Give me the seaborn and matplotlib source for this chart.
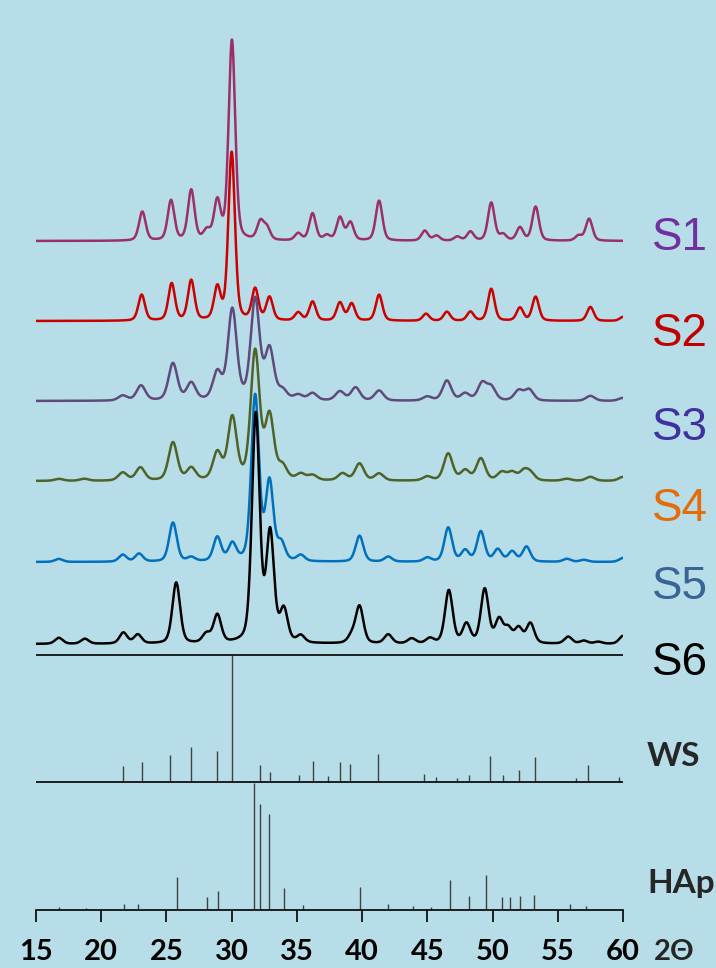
import numpy as np
import pandas as pd
import matplotlib
matplotlib.use("Agg")
import matplotlib.pyplot as plt
import seaborn as sns

# --- data ---------------------------------------------------------------
samples = ["S1", "S2", "S3", "S4", "S5", "S6"]
line_colors = ["#9b3068", "#cc0000", "#604a7b", "#4f6228", "#0070c0", "#000000"]
label_colors = ["#7030a0", "#c00000", "#3f31a0", "#e46c0a", "#3b6496", "#000000"]

# peak position (2theta) / peak height (a.u.) for each sample pattern
s1_pos = [23.15, 25.35, 26.9, 28.1, 28.9, 30.02, 32.2, 32.7, 35.1, 36.2, 37.3, 38.3, 39.1,
          41.3, 44.8, 45.7, 47.3, 48.3, 49.9, 50.8, 52.1, 53.3, 56.6, 57.4]
s1_int = [29, 40, 50, 9, 38, 200, 18, 12, 7, 27, 5, 23, 18,
          40, 10, 5, 4, 9, 38, 6, 13, 34, 5, 22]

s2_pos = [23.1, 25.4, 26.9, 28.9, 30.0, 31.8, 32.9, 35.1, 36.2, 38.3, 39.2, 41.3,
          44.9, 46.5, 48.3, 49.9, 52.1, 53.3, 57.5, 60.0]
s2_int = [26, 37, 40, 32, 168, 31, 23, 8, 19, 18, 17, 26,
          7, 9, 9, 32, 13, 24, 14, 4]

s3_pos = [21.65, 23.05, 25.5, 26.9, 28.9, 30.05, 31.8, 32.9, 33.9, 35.1, 36.2, 38.3,
          39.5, 41.3, 45.0, 46.5, 47.9, 49.2, 49.9, 52.0, 52.8, 57.5, 60.0]
s3_int = [5, 15, 37, 17, 27, 90, 100, 50, 9, 5, 7, 9,
          13, 10, 4, 20, 7, 17, 13, 10, 11, 5, 3]

s4_pos = [16.75, 18.7, 21.65, 23.0, 25.5, 26.9, 28.9, 30.05, 31.8, 32.9, 33.9, 35.3,
          36.2, 38.5, 39.8, 41.3, 45.0, 46.6, 47.9, 49.1, 50.7, 51.5, 52.4, 52.9,
          55.7, 57.5, 60.0]
s4_int = [2, 2, 8, 13, 38, 12, 27, 62, 128, 63, 13, 6,
          5, 7, 17, 7, 4, 27, 10, 22, 8, 8, 9, 7,
          2, 4, 4]

s5_pos = [16.75, 21.65, 22.9, 25.5, 26.9, 28.9, 30.05, 31.8, 32.9, 33.8, 35.3, 39.8,
          42.0, 45.0, 46.6, 47.9, 49.1, 50.4, 51.5, 52.6, 55.7, 57.0, 60.0]
s5_int = [3, 7, 8, 39, 4, 24, 17, 165, 78, 17, 6, 26,
          5, 4, 34, 11, 30, 12, 10, 15, 3, 2, 4]

s6_pos = [16.75, 18.75, 21.7, 22.8, 25.75, 28.06, 28.9, 31.85, 32.95, 34.0, 35.3, 39.2,
          39.8, 42.0, 43.8, 45.2, 46.65, 48.0, 49.4, 50.5, 51.2, 52.0, 52.9, 55.8,
          57.0, 58.1, 60.0]
s6_int = [6, 5, 11, 9, 61, 9, 28, 228, 108, 32, 7, 7,
          37, 9, 5, 5, 53, 19, 54, 23, 14, 15, 20, 7,
          3, 2, 8]

peak_pos = [s1_pos, s2_pos, s3_pos, s4_pos, s5_pos, s6_pos]
peak_int = [s1_int, s2_int, s3_int, s4_int, s5_int, s6_int]
peak_fwhm = [0.6, 0.6, 0.8, 0.8, 0.7, 0.7]

# reference stick patterns (relative intensity, %)
ws_pos = [21.65, 23.1, 25.3, 26.85, 28.85, 30.0, 32.15, 32.95, 35.15, 36.2, 37.35, 38.3,
          39.1, 41.2, 44.75, 45.65, 47.3, 48.2, 49.8, 50.8, 52.05, 53.25, 56.4, 57.35, 59.7]
ws_int = [12.3, 16, 21.2, 27.2, 24.3, 100, 13.6, 7.6, 5.5, 16.5, 5, 16,
          14.1, 22.3, 6.3, 3.9, 3.1, 5.8, 20.7, 5.8, 9.7, 19.6, 3.1, 13.1, 3.7]

hap_pos = [16.75, 18.8, 21.75, 22.85, 25.8, 28.1, 28.95, 31.75, 32.2, 32.9, 34.0, 35.5,
           39.8, 42.0, 43.9, 45.3, 46.7, 48.2, 49.5, 50.75, 51.3, 52.1, 53.2, 55.9, 57.15]
hap_int = [2.6, 1.8, 4.7, 4.7, 25.6, 10.5, 15.2, 100, 83.6, 75.2, 17.2, 3.7,
           18, 4.7, 3.4, 2.6, 23.8, 11, 27.2, 10.4, 9.9, 10.7, 11.7, 4.7, 3.1]

x_ticks = [15, 20, 25, 30, 35, 40, 45, 50, 55, 60]

# --- layout ---------------------------------------------------------------
offsets = [669, 589, 509, 429, 348, 266]   # baseline of each stacked pattern
ws_base, hap_base, stick_scale = 128, 0, 1.27
label_y = [238, 334, 428, 509, 587, 663]   # px from top
bg = "#b7dee8"
tick_len, tick_pad = 8.6, 12


def profile(x, pos, height, fwhm, eta=0.35):
    y = np.zeros_like(x)
    for p, h in zip(pos, height):
        d = (x - p) / fwhm
        y += h * (eta / (1 + 4 * d ** 2) + (1 - eta) * np.exp(-4 * np.log(2) * d ** 2))
    return y


two_theta = np.linspace(15, 60, 2251)
frames = []
for name, pos, inten, w, off in zip(samples, peak_pos, peak_int, peak_fwhm, offsets):
    frames.append(pd.DataFrame({"two_theta": two_theta,
                                "intensity": off + profile(two_theta, pos, inten, w),
                                "sample": name}))
df = pd.concat(frames, ignore_index=True)

sns.set_theme(style="white")
plt.rcParams["font.family"] = ["Lato", "DejaVu Sans"]

fig = plt.figure(figsize=(7.16, 9.68), dpi=100, facecolor=bg)
ax = fig.add_axes([36 / 716, 58 / 968, 587 / 716, 910 / 968])
ax.set_facecolor(bg)

sns.lineplot(data=df, x="two_theta", y="intensity", hue="sample", hue_order=samples,
             palette=line_colors, estimator=None, sort=False, legend=False, lw=1.8, ax=ax)

# stick patterns
ax.vlines(ws_pos, ws_base, ws_base + np.array(ws_int) * stick_scale, color="#404040", lw=1.0)
ax.vlines(hap_pos, hap_base, hap_base + np.array(hap_int) * stick_scale, color="#404040", lw=1.0)
ax.hlines([ws_base, ws_base + 100 * stick_scale], 15, 60, color="black", lw=1.2)

ax.set_xlim(15, 60)
ax.set_ylim(0, 910)
ax.set_xticks(x_ticks)
ax.set_xticklabels([str(t) for t in x_ticks], fontsize=21, fontweight="bold")
ax.set_yticks([])
ax.set_xlabel("")
ax.set_ylabel("")
ax.tick_params(axis="x", direction="out", length=tick_len, width=1.2, color="black",
               pad=tick_pad, bottom=True, labelcolor="black")
for side in ["top", "right", "left"]:
    ax.spines[side].set_visible(False)
ax.spines["bottom"].set_color("black")
ax.spines["bottom"].set_linewidth(1.2)

# axis title sits right after the last tick label
ax.annotate("2Θ", xy=(60, 0), xycoords=("data", "axes fraction"),
            xytext=(22, -(tick_len + tick_pad)), textcoords="offset points",
            fontsize=21, fontweight="bold", va="top", ha="left",
            family=["Lato", "DejaVu Sans"], annotation_clip=False)

for name, col, ly in zip(samples, label_colors, label_y):
    fig.text(652 / 716, 1 - ly / 968, name, color=col, fontsize=33, va="center", ha="left",
             family=["Liberation Sans", "DejaVu Sans"])

fig.text(647 / 716, 1 - 757 / 968, "WS", fontsize=24, fontweight="bold", va="center", ha="left")
fig.text(647 / 716, 1 - 884 / 968, "HAp", fontsize=24, fontweight="bold", va="center", ha="left")

fig.savefig("out.png", dpi=100, facecolor=bg)
